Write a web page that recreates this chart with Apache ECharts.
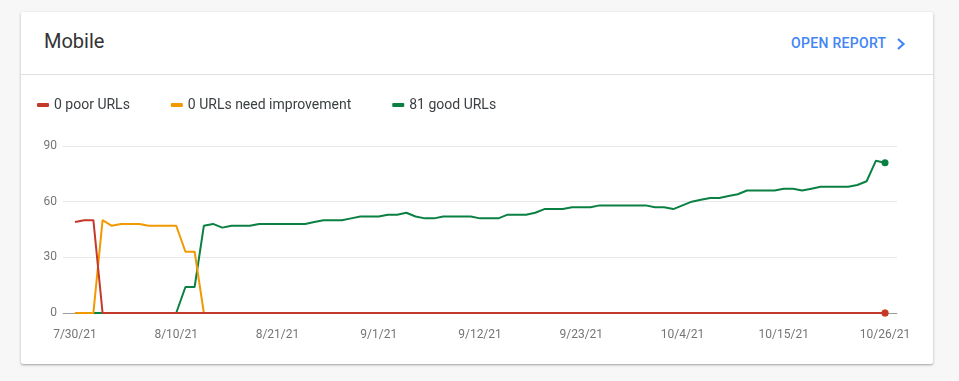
<!DOCTYPE html>
<html>
<head>
<meta charset="utf-8">
<script src="https://cdn.jsdelivr.net/npm/echarts@6/dist/echarts.min.js"></script>
<style>
  html, body { margin:0; padding:0; width:959px; height:381px; background:#f7f7f7; overflow:hidden; font-family: Roboto, "Noto Sans", Arial, sans-serif; }
  #card { position:absolute; left:21px; top:12px; width:912px; height:352px; background:#fff; border-radius:2px;
          box-shadow: 0 1px 3px rgba(0,0,0,0.28), 0 1px 1px rgba(0,0,0,0.10); }
  #title { position:absolute; left:23px; top:17px; font-size:20px; color:#333; font-weight:400; }
  #link { position:absolute; left:770px; top:23px; font-size:14px; font-weight:500; color:#4285f4; letter-spacing:0.3px; }
  #chev { position:absolute; left:874px; top:25px; }
  #divider { position:absolute; left:0; top:62px; width:912px; height:1px; background:#e0e0e0; }
  #chart { position:absolute; left:0; top:0; width:959px; height:381px; }
</style>
</head>
<body>
<div id="card">
  <div id="title">Mobile</div>
  <div id="link">OPEN REPORT</div>
  <svg id="chev" width="12" height="14" viewBox="0 0 12 14"><path d="M3 2 L8.5 7 L3 12" fill="none" stroke="#4285f4" stroke-width="2.2"/></svg>
  <div id="divider"></div>
</div>
<div id="chart"></div>
<script>
// X tick labels (every 11 days, day index 0 = 7/30/21)
const tickLabels = ['7/30/21','8/10/21','8/21/21','9/1/21','9/12/21','9/23/21','10/4/21','10/15/21','10/26/21'];
const tickDays = [0,11,22,33,44,55,66,77,88];
const seriesNames = ['0 poor URLs','0 URLs need improvement','81 good URLs'];

// Daily values, day 0 (7/30/21) .. day 88 (10/26/21)
const poor = [49,50,50,0,0,0,0,0,0,0, 0,0,0,0,0,0,0,0,0,0, 0,0,0,0,0,0,0,0,0,0,
              0,0,0,0,0,0,0,0,0,0, 0,0,0,0,0,0,0,0,0,0, 0,0,0,0,0,0,0,0,0,0,
              0,0,0,0,0,0,0,0,0,0, 0,0,0,0,0,0,0,0,0,0, 0,0,0,0,0,0,0,0,0];
const needImprovement = [0,0,0,50,47,48,48,48,47,47, 47,47,33,33,0,0,0,0,0,0, 0,0,0,0,0,0,0,0,0,0,
              0,0,0,0,0,0,0,0,0,0, 0,0,0,0,0,0,0,0,0,0, 0,0,0,0,0,0,0,0,0,0,
              0,0,0,0,0,0,0,0,0,0, 0,0,0,0,0,0,0,0,0,0, 0,0,0,0,0,0,0,0,0];
const good = [0,0,0,0,0,0,0,0,0,0, 0,0,14,14,47,48,46,47,47,47,
              48,48,48,48,48,48,49,50,50,50, 51,52,52,52,53,53,54,52,51,51,
              52,52,52,52,51,51,51,53,53,53, 54,56,56,56,57,57,57,58,58,58,
              58,58,58,57,57,56,58,60,61,62, 62,63,64,66,66,66,66,67,67,66,
              67,68,68,68,68,69,71,82,81];

const colors = { poor:'#c5392a', need:'#f29900', good:'#0b8043' };

function toData(arr) {
  return arr.map((v, i) => i === arr.length - 1
    ? { value: [i, v], symbol: 'circle', symbolSize: 7 }
    : [i, v]);
}

const chart = echarts.init(document.getElementById('chart'), null, { renderer: 'canvas' });
const lineStyle = (c) => ({ color: c, width: 2 });
chart.setOption({
  animation: false,
  textStyle: { fontFamily: 'Roboto, "Noto Sans", Arial, sans-serif' },
  legend: {
    data: seriesNames,
    left: 37, top: 98, padding: 0,
    itemWidth: 12, itemHeight: 4, itemGap: 41,
    icon: 'roundRect',
    textStyle: { fontSize: 14, color: '#3c4043' },
    selectedMode: false
  },
  grid: { left: 63, right: 62, top: 146, bottom: 68, containLabel: false },
  xAxis: {
    type: 'value',
    min: -1.3, max: 89.3,
    axisLine: { show: true, lineStyle: { color: '#9e9e9e', width: 1 } },
    axisTick: { show: false },
    splitLine: { show: false },
    axisLabel: {
      customValues: tickDays,
      formatter: (v) => tickLabels[tickDays.indexOf(Math.round(v))] || '',
      color: '#757575', fontSize: 12, margin: 16
    }
  },
  yAxis: {
    type: 'value', min: 0, max: 90, interval: 30,
    axisLine: { show: false }, axisTick: { show: false },
    splitLine: { lineStyle: { color: '#e8e8e8', width: 1 } },
    axisLabel: { color: '#757575', fontSize: 12, margin: 6 }
  },
  series: [
    { name: seriesNames[2], type: 'line', data: toData(good), symbol: 'none', showAllSymbol: true,
      itemStyle: { color: colors.good }, lineStyle: lineStyle(colors.good), z: 2 },
    { name: seriesNames[1], type: 'line', data: toData(needImprovement), symbol: 'none', showAllSymbol: true,
      itemStyle: { color: colors.need }, lineStyle: lineStyle(colors.need), z: 3 },
    { name: seriesNames[0], type: 'line', data: toData(poor), symbol: 'none', showAllSymbol: true,
      itemStyle: { color: colors.poor }, lineStyle: lineStyle(colors.poor), z: 4 }
  ]
});
</script>
</body>
</html>
